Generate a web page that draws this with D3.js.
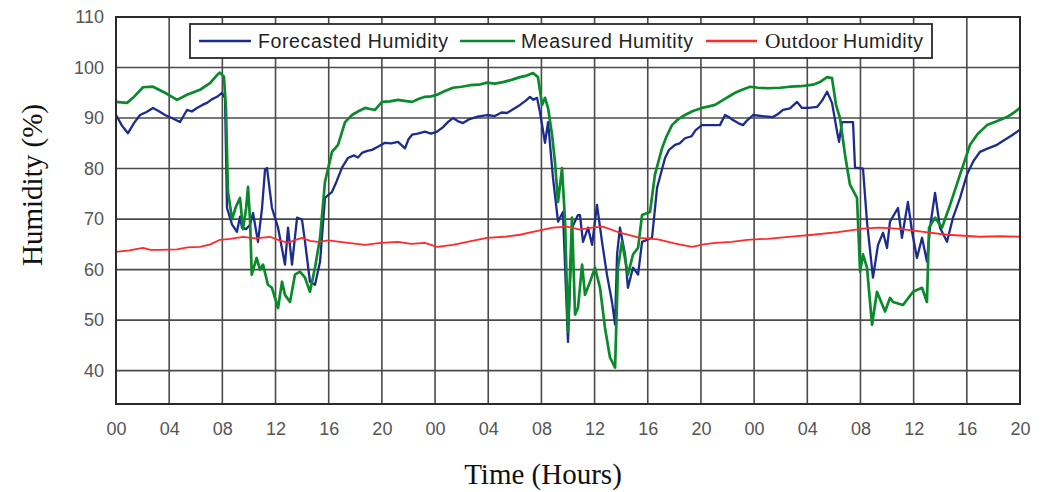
<!DOCTYPE html>
<html>
<head>
<meta charset="utf-8">
<script src="https://cdn.jsdelivr.net/npm/d3@7"></script>
<style>
  html, body { margin: 0; padding: 0; background: #fff; }
  svg { display: block; }
</style>
</head>
<body>
<svg id="chart" width="1047" height="492"></svg>
<script>
// Hour ticks along the time axis (three consecutive days, 00 to 20 on day 3)
const hourTicks = [0, 4, 8, 12, 16, 20, 24, 28, 32, 36, 40, 44, 48, 52, 56, 60, 64, 68];
const hourLabels = ["00","04","08","12","16","20","00","04","08","12","16","20","00","04","08","12","16","20"];
const humidityTicks = [40, 50, 60, 70, 80, 90, 100, 110];

const seriesNames = ["Forecasted Humidity", "Measured Humitity", "Outdoor Humidity"];

// [hour, humidity %]
const forecasted = [
  [0.00,90.6],[0.45,88.5],[0.90,87.0],[1.35,89.0],[1.81,90.6],[2.30,91.2],[2.78,92.0],[3.20,91.4],
  [3.69,90.6],[4.20,90.0],[4.81,89.2],[5.10,90.5],[5.34,91.6],[5.70,91.3],[6.09,92.0],[6.50,92.6],
  [6.85,93.0],[7.20,93.7],[7.60,94.2],[7.97,95.0],[8.20,94.0],[8.35,72.2],[8.73,68.9],
  [9.10,67.5],[9.33,70.5],[9.48,68.3],[9.78,68.0],[10.08,68.9],[10.31,71.2],[10.68,65.5],[10.98,72.0],
  [11.21,79.8],[11.36,80.1],[11.73,72.2],[12.19,68.3],[12.71,61.0],[12.94,68.3],[13.24,61.0],[13.62,70.3],
  [13.99,69.9],[14.22,65.5],[14.59,57.6],[14.97,57.0],[15.35,61.6],[15.72,74.2],[16.25,75.4],[16.60,77.5],
  [17.00,80.2],[17.45,82.1],[17.90,82.6],[18.20,82.2],[18.50,83.1],[18.90,83.5],[19.26,83.7],[19.70,84.3],
  [20.23,85.1],[20.70,85.0],[21.21,85.3],[21.50,84.6],[21.74,84.0],[22.00,85.8],[22.27,86.7],[22.70,86.9],
  [23.24,87.3],[23.70,86.9],[24.15,87.3],[24.60,88.2],[25.00,89.3],[25.35,90.0],[25.70,89.4],[26.10,89.0],
  [26.60,89.8],[27.20,90.3],[27.91,90.6],[28.50,90.4],[29.00,91.1],[29.41,91.0],[29.90,91.8],[30.39,92.6],
  [30.80,93.4],[31.14,94.2],[31.40,93.6],[31.67,94.0],
  [31.89,91.2],[32.27,85.1],[32.50,89.2],[32.87,78.2],[33.25,69.5],[33.62,71.4],[34.00,45.7],[34.30,68.3],
  [34.75,70.8],[34.90,70.8],[35.13,65.5],[35.51,68.3],[35.81,64.9],[36.18,72.8],[36.56,65.5],[36.93,59.0],
  [37.31,53.6],[37.54,49.1],[37.69,63.0],[37.91,68.3],[38.29,63.0],[38.51,56.4],[38.89,60.4],[39.27,59.0],
  [39.57,65.5],[40.32,66.3],[40.70,76.2],[41.30,82.1],[41.60,83.7],[42.05,84.7],[42.40,85.0],[42.80,86.0],
  [43.30,86.4],[43.60,87.6],[44.08,88.6],[44.80,88.6],[45.43,88.6],[45.81,90.6],[46.10,90.2],[46.41,89.6],
  [46.80,89.0],[47.16,88.6],[47.50,89.6],[47.92,90.6],[48.60,90.4],[49.42,90.2],[49.80,90.8],[50.17,91.6],
  [50.70,91.9],[51.23,93.2],[51.60,92.0],[52.10,92.0],[52.73,92.2],[53.10,93.4],
  [53.49,95.2],[53.86,93.0],[54.24,87.3],[54.39,85.3],[54.61,89.2],[55.44,89.2],[55.59,80.2],
  [56.19,80.0],[56.49,69.5],[56.94,58.4],[57.32,64.9],[57.70,67.3],[58.00,64.3],[58.22,69.5],[58.82,72.2],
  [59.12,66.3],[59.57,73.4],[59.88,67.5],[60.25,62.3],[60.63,66.3],[61.00,61.6],[61.23,68.3],[61.61,75.2],
  [61.98,68.3],[62.51,65.5],[62.96,70.3],[63.49,74.2],[64.01,78.8],[64.50,81.5],[64.99,83.3],[65.50,83.9],
  [66.27,84.7],[66.80,85.6],[67.40,86.6],[68.00,87.7]
];

const measured = [
  [0.00,93.2],[0.83,93.0],[1.28,94.0],[2.03,96.1],[2.78,96.2],[3.69,95.0],[4.59,93.6],[5.34,94.6],
  [6.32,95.6],[7.07,96.9],[7.60,98.5],[7.82,99.0],[8.12,98.2],[8.27,92.0],[8.42,75.5],[8.73,70.0],
  [9.03,72.5],[9.33,74.2],[9.55,68.0],[9.78,72.0],[9.93,76.4],[10.08,70.0],[10.21,59.0],[10.58,62.3],
  [10.83,60.0],[11.06,61.0],[11.43,57.0],[11.73,56.4],[12.19,52.4],[12.49,57.6],[12.71,55.0],[13.09,53.6],
  [13.46,59.0],[13.84,59.6],[14.22,58.4],[14.59,55.6],[14.97,60.4],[15.35,66.3],[15.72,77.4],[16.25,83.3],
  [16.70,84.7],[17.23,89.2],[17.75,90.6],[18.20,91.3],[18.73,92.0],[19.10,91.8],[19.48,91.6],[20.01,93.2],
  [20.60,93.3],[21.21,93.6],[21.70,93.4],[22.27,93.2],[22.80,93.8],[23.24,94.2],[23.70,94.3],[24.15,94.6],
  [24.70,95.3],[25.35,96.0],[26.00,96.2],[26.63,96.5],[27.30,96.6],[27.91,97.0],[28.50,96.8],[29.11,97.1],
  [29.80,97.6],[30.39,98.1],[30.90,98.4],[31.37,98.9],
  [31.74,98.1],[32.05,92.6],[32.27,94.0],[32.50,92.0],[32.80,86.7],[33.02,81.3],[33.25,73.4],[33.55,80.1],
  [33.78,69.5],[34.00,47.7],[34.30,70.3],[34.53,51.1],[34.75,52.4],[35.06,61.0],[35.28,55.0],[35.66,57.6],
  [36.03,60.4],[36.41,56.4],[36.78,48.5],[37.16,42.6],[37.54,40.6],[37.76,60.4],[38.06,65.5],[38.51,59.0],
  [38.89,63.0],[39.27,64.3],[39.57,70.8],[40.17,71.4],[40.54,78.8],[41.07,84.0],[41.40,86.3],[41.82,88.6],
  [42.30,89.8],[42.80,90.6],[43.40,91.4],[44.08,92.0],[44.60,92.3],[45.06,92.6],[45.80,93.8],[46.57,95.0],
  [47.10,95.6],[47.70,96.2],[48.30,96.0],[49.00,95.9],[49.95,96.0],[50.70,96.2],[51.50,96.3],[52.43,96.6],
  [53.00,97.2],[53.49,98.1],[53.86,97.9],
  [54.16,92.6],[54.46,90.0],[54.84,82.7],[55.21,76.8],[55.74,74.2],[55.97,59.6],[56.19,63.0],[56.49,60.4],
  [56.87,49.1],[57.24,55.6],[57.85,51.7],[58.22,54.4],[58.45,53.6],[59.20,53.0],[59.95,55.6],[60.63,56.4],
  [61.00,53.6],[61.16,68.3],[61.61,70.3],[62.13,68.3],[62.74,72.8],[63.49,78.8],[64.24,84.7],[64.80,86.8],
  [65.52,88.6],[66.20,89.3],[67.02,90.2],[67.50,91.0],[68.00,92.0]
];

const outdoor = [
  [0.00,63.5],[1.00,63.8],[2.03,64.3],[2.60,63.9],[3.31,63.9],[4.59,64.0],[5.40,64.4],[6.32,64.5],
  [7.10,65.0],[7.82,65.9],[8.60,66.1],[9.55,66.5],[10.50,66.2],[11.58,66.5],[12.30,65.8],[12.94,65.3],
  [13.50,65.9],[13.99,66.3],[14.60,65.7],[15.19,65.5],[16.00,65.8],[16.85,65.5],[17.80,65.2],[18.73,64.9],
  [19.90,65.3],[21.21,65.5],[22.20,65.1],[23.24,65.3],[24.15,64.5],[25.35,64.9],[26.60,65.6],[27.91,66.3],
  [29.20,66.5],[30.39,66.9],[31.60,67.6],[32.87,68.3],[33.93,68.5],[34.90,67.9],[35.80,68.3],[36.63,68.5],
  [37.91,67.3],[38.70,66.8],[39.42,66.3],[40.77,66.0],[42.00,65.2],[43.33,64.5],[44.20,65.0],[45.06,65.3],
  [46.30,65.5],[47.47,65.9],[49.00,66.1],[50.60,66.5],[52.43,66.9],[54.30,67.4],[56.19,68.1],[57.40,68.3],
  [58.75,68.1],[60.60,67.5],[62.51,66.9],[63.80,66.7],[64.99,66.5],[66.50,66.6],[68.00,66.5]
];

const seriesData = [forecasted, measured, outdoor];
const seriesColors = ["#1c2c8e", "#0b8a2c", "#ff2a2a"];
const seriesWidths = [2.3, 2.7, 1.8];

const svg = d3.select("#chart");
const plot = { left: 116, right: 1020, top: 17, bottom: 404 };

const x = d3.scaleLinear().domain([0, 68]).range([plot.left, plot.right]);
const y = d3.scaleLinear().domain([33.4, 110]).range([plot.bottom, plot.top]);

// Grid
const grid = svg.append("g").attr("stroke", "#4a4a4a").attr("stroke-width", 1.6);
grid.selectAll("line.v").data(hourTicks.slice(1, -1)).join("line")
  .attr("x1", d => x(d)).attr("x2", d => x(d))
  .attr("y1", plot.top).attr("y2", plot.bottom);
grid.selectAll("line.h").data(humidityTicks.slice(0, -1)).join("line")
  .attr("x1", plot.left).attr("x2", plot.right)
  .attr("y1", d => y(d)).attr("y2", d => y(d));

// Axes (labels only; frame drawn separately)
const xAxis = d3.axisBottom(x).tickValues(hourTicks)
  .tickFormat((d, i) => hourLabels[i]).tickSize(0).tickPadding(18);
const yAxis = d3.axisLeft(y).tickValues(humidityTicks).tickSize(0).tickPadding(12);

const gx = svg.append("g").attr("transform", `translate(0,${plot.bottom})`).call(xAxis);
const gy = svg.append("g").attr("transform", `translate(${plot.left},0)`).call(yAxis);
[gx, gy].forEach(g => {
  g.select(".domain").remove();
  g.selectAll("text")
    .attr("font-family", "'Liberation Sans', Arial, sans-serif")
    .attr("font-size", 18).attr("fill", "#555");
});

// Series lines
const line = d3.line().x(d => x(d[0])).y(d => y(d[1]));
svg.append("g").selectAll("path").data(seriesData).join("path")
  .attr("d", line)
  .attr("fill", "none")
  .attr("stroke", (d, i) => seriesColors[i])
  .attr("stroke-width", (d, i) => seriesWidths[i])
  .attr("stroke-linejoin", "round");

// Frame
svg.append("rect")
  .attr("x", plot.left).attr("y", plot.top)
  .attr("width", plot.right - plot.left).attr("height", plot.bottom - plot.top)
  .attr("fill", "none").attr("stroke", "#2a2a2a").attr("stroke-width", 2);

// Legend
const legend = svg.append("g");
legend.append("rect")
  .attr("x", 190).attr("y", 24).attr("width", 742).attr("height", 34)
  .attr("fill", "#fff").attr("stroke", "#2a2a2a").attr("stroke-width", 1.8);

const legendItems = [
  { x0: 199, x1: 251, tx: 258, len: 190 },
  { x0: 460, x1: 515, tx: 521, len: 172 },
  { x0: 706, x1: 757, tx: 765, len: 158 }
];
legendItems.forEach((it, i) => {
  legend.append("line")
    .attr("x1", it.x0).attr("x2", it.x1).attr("y1", 41).attr("y2", 41)
    .attr("stroke", seriesColors[i]).attr("stroke-width", 2.4);
});
const sansLegend = "'Liberation Sans', Arial, sans-serif";
[0, 1].forEach(i => {
  legend.append("text")
    .attr("x", legendItems[i].tx).attr("y", 48)
    .attr("font-family", sansLegend).attr("font-size", 19.5)
    .attr("fill", "#222").attr("textLength", legendItems[i].len).attr("lengthAdjust", "spacing")
    .text(seriesNames[i]);
});
const outdoorParts = seriesNames[2].split(" ");
const t3 = legend.append("text").attr("y", 48).attr("fill", "#222");
t3.append("tspan").attr("x", legendItems[2].tx)
  .attr("font-family", "'Liberation Serif', 'Times New Roman', serif").attr("font-size", 21.5)
  .attr("textLength", 73).attr("lengthAdjust", "spacing")
  .text(outdoorParts[0]);
t3.append("tspan").attr("x", 843)
  .attr("font-family", sansLegend).attr("font-size", 19.5)
  .attr("textLength", 80).attr("lengthAdjust", "spacing")
  .text(outdoorParts[1]);

// Axis titles
svg.append("text")
  .attr("x", 543).attr("y", 484)
  .attr("text-anchor", "middle")
  .attr("font-family", "'Liberation Serif', 'Times New Roman', serif")
  .attr("font-size", 29).attr("fill", "#111")
  .text("Time (Hours)");
svg.append("text")
  .attr("transform", "translate(42,185) rotate(-90)")
  .attr("text-anchor", "middle")
  .attr("font-family", "'Liberation Serif', 'Times New Roman', serif")
  .attr("font-size", 29).attr("fill", "#111")
  .text("Humidity (%)");
</script>
</body>
</html>
